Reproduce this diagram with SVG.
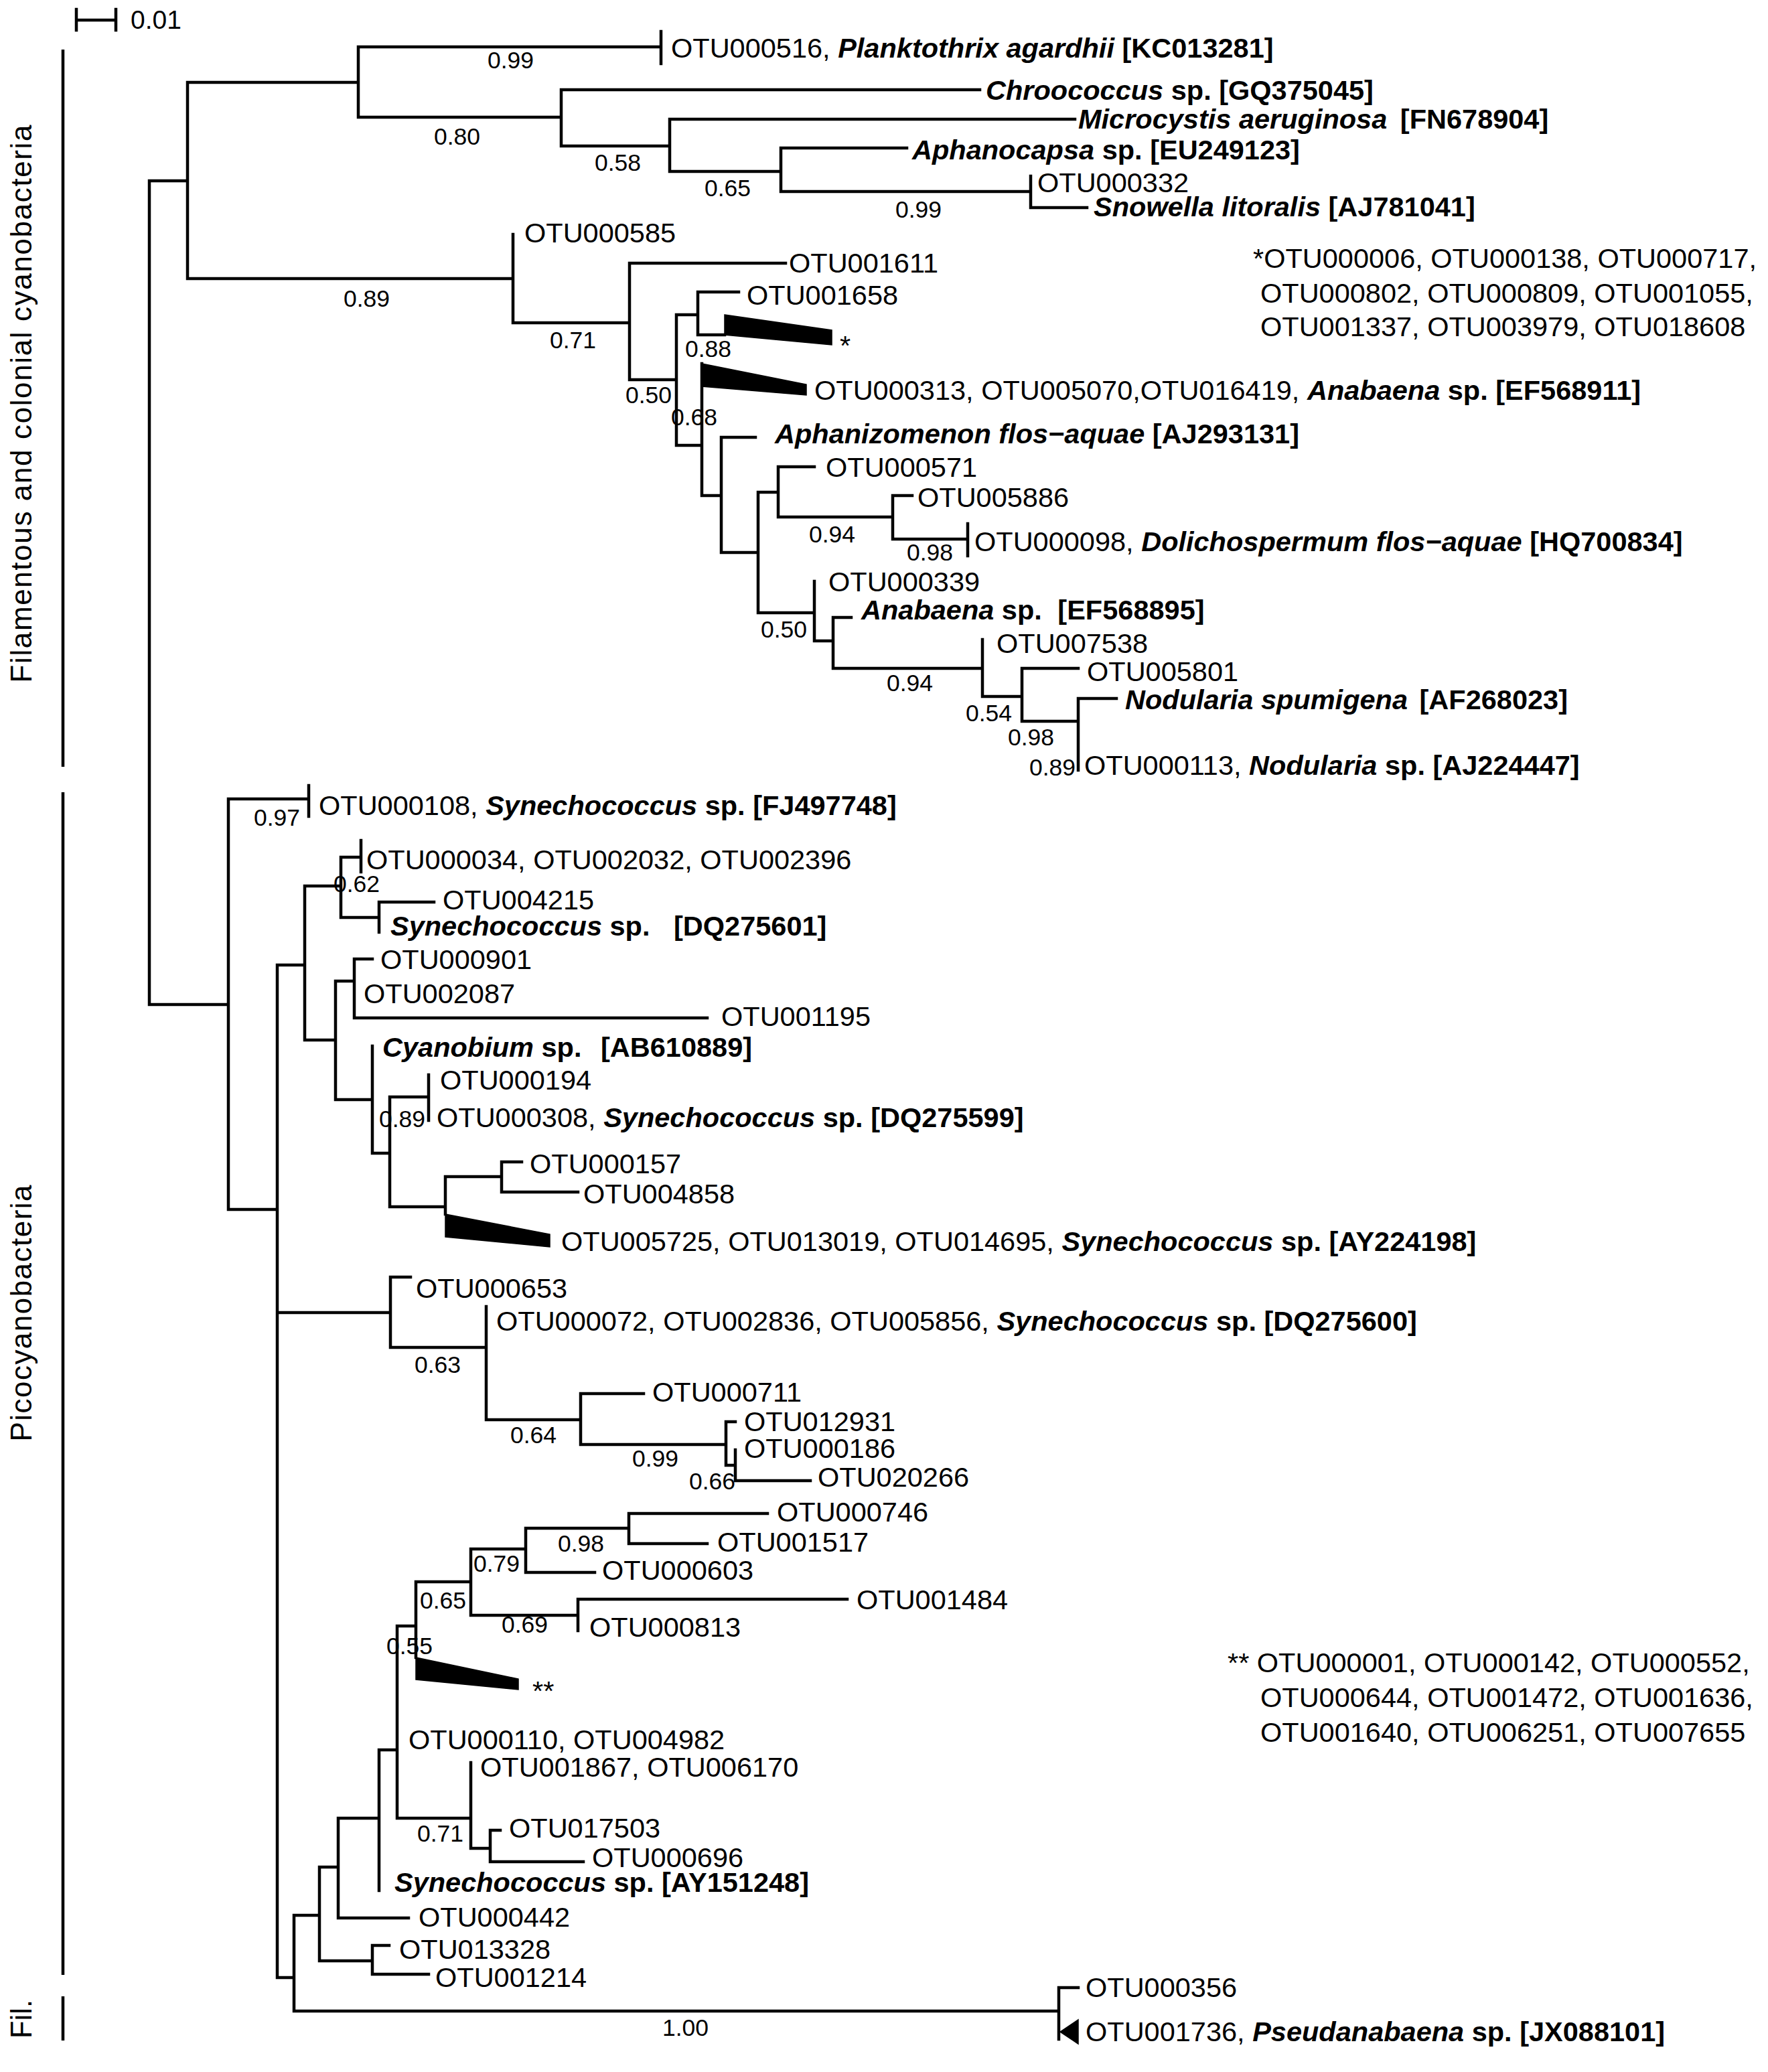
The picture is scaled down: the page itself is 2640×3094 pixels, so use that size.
<svg xmlns="http://www.w3.org/2000/svg" width="2640" height="3094" viewBox="0 0 2640 3094">
<style>
text{font-family:"Liberation Sans",Arial,sans-serif;font-size:41.5px;fill:#000}
.b{font-weight:bold}
.bi{font-weight:bold;font-style:italic}
.bs{font-size:35.5px}
.side{font-size:44px}
.br{fill:none;stroke:#000;stroke-width:4.5;stroke-linecap:square}
.bar{fill:none;stroke:#000;stroke-width:4.5}
.wedge{fill:#000;stroke:#000;stroke-width:1.5}
</style>
<rect width="2640" height="3094" fill="#fff"/>
<g id="scale-bar">
<path class="br" d="M114 30H173 M114 14V45 M173 14V45"/>
<text x="195" y="43" style="font-size:39px">0.01</text>
</g>
<g id="group-bars">
<path class="bar" d="M94 74V1145 M94 1183V2949 M94 2981V3047"/>
<text class="side" transform="translate(47,603) rotate(-90)" text-anchor="middle" textLength="833" lengthAdjust="spacing">Filamentous and colonial cyanobacteria</text>
<text class="side" transform="translate(47,1961) rotate(-90)" text-anchor="middle" textLength="383" lengthAdjust="spacing">Picocyanobacteria</text>
<text class="side" transform="translate(47,3015) rotate(-90)" text-anchor="middle" textLength="58" lengthAdjust="spacingAndGlyphs">Fil.</text>
</g>
<g id="connectors">
<path class="br" d="M223 270H280 M223 1500H341 M223 270V1500
M280 123V416 M280 123H535 M280 416H766
M535 70V175 M535 70H987 M987 47V95 M535 175H838
M838 134V218 M838 134H1463 M838 218H1000
M1000 178V256 M1000 178H1605 M1000 256H1166
M1166 221V286 M1166 221H1354 M1166 286H1539
M1539 263V310 M1539 310H1623
M766 350V482 M766 482H940
M940 393V567 M940 393H1173 M940 567H1010
M1010 470V665 M1010 470H1042 M1010 665H1048
M1042 436V500 M1042 436H1103 M1042 500H1082
M1048 543V740 M1048 740H1077
M1077 653V825 M1077 653H1128 M1077 825H1132
M1132 735V915 M1132 735H1162 M1132 915H1216
M1162 697V772 M1162 697H1216 M1162 772H1333
M1333 740V805 M1333 740H1362 M1333 805H1445 M1445 782V830
M1216 868V957 M1216 957H1244
M1244 922V998 M1244 922H1271 M1244 998H1467
M1467 955V1040 M1467 1040H1526
M1526 998V1077 M1526 998H1610 M1526 1077H1610
M1610 1043V1150 M1610 1043H1667
M341 1193V1806 M341 1193H461 M461 1173V1219 M341 1806H414
M414 1441V2953 M414 1441H455 M414 1960H583 M414 2953H439
M455 1323V1553 M455 1323H509 M455 1553H501
M509 1280V1370 M509 1280H539 M539 1255V1302 M509 1370H566
M566 1347V1392 M566 1347H648
M501 1465V1642 M501 1465H529 M501 1642H556
M529 1432V1520 M529 1432H556 M529 1520H1056
M556 1562V1722 M556 1722H582
M582 1638V1802 M582 1638H640 M582 1802H665
M640 1605V1673
M665 1757V1813 M665 1757H749
M749 1735V1780 M749 1735H779 M749 1780H863
M583 1907V2012 M583 1907H613 M583 2012H726
M726 1951V2120 M726 2120H867
M867 2081V2157 M867 2081H961 M867 2157H1084
M1084 2123V2188 M1084 2123H1098 M1084 2188H1098
M1098 2165V2211 M1098 2211H1210
M439 2860V3003 M439 2860H477 M439 3003H1581
M477 2788V2928 M477 2788H505 M477 2928H556
M556 2905V2948 M556 2905H581 M556 2948H640
M505 2715V2864 M505 2715H566 M505 2864H610
M566 2613V2823 M566 2613H593
M593 2428V2715 M593 2428H621 M593 2715H703
M621 2362V2475 M621 2362H703
M703 2313V2412 M703 2313H785 M703 2412H863
M785 2282V2348 M785 2282H939 M785 2348H888
M939 2260V2305 M939 2260H1146 M939 2305H1056
M863 2388V2435 M863 2388H1265
M703 2632V2760 M703 2760H732
M732 2733V2780 M732 2733H747 M732 2780H871
M1581 2968V3045 M1581 2968H1610"/>
<polygon class="wedge" points="1082,470 1242,493 1242,515 1082,500"/>
<polygon class="wedge" points="1048,543 1204,574 1204,590 1048,577"/>
<polygon class="wedge" points="665,1813 821,1843 821,1862 665,1847"/>
<polygon class="wedge" points="621,2475 774,2507 774,2523 621,2508"/>
<polygon class="wedge" points="1583,3034 1610,3016 1610,3052"/>
</g>
<g id="support-values">
<text class="bs" x="728" y="102">0.99</text>
<text class="bs" x="648" y="216">0.80</text>
<text class="bs" x="888" y="255">0.58</text>
<text class="bs" x="1052" y="293">0.65</text>
<text class="bs" x="1337" y="325">0.99</text>
<text class="bs" x="513" y="458">0.89</text>
<text class="bs" x="821" y="520">0.71</text>
<text class="bs" x="1023" y="533">0.88</text>
<text class="bs" x="934" y="602">0.50</text>
<text class="bs" x="1002" y="635">0.68</text>
<text class="bs" x="1208" y="810">0.94</text>
<text class="bs" x="1354" y="837">0.98</text>
<text class="bs" x="1136" y="952">0.50</text>
<text class="bs" x="1324" y="1032">0.94</text>
<text class="bs" x="1442" y="1077">0.54</text>
<text class="bs" x="1505" y="1113">0.98</text>
<text class="bs" x="1537" y="1158">0.89</text>
<text class="bs" x="379" y="1233">0.97</text>
<text class="bs" x="498" y="1332">0.62</text>
<text class="bs" x="566" y="1683">0.89</text>
<text class="bs" x="619" y="2050">0.63</text>
<text class="bs" x="762" y="2155">0.64</text>
<text class="bs" x="944" y="2190">0.99</text>
<text class="bs" x="1029" y="2224">0.66</text>
<text class="bs" x="833" y="2317">0.98</text>
<text class="bs" x="707" y="2347">0.79</text>
<text class="bs" x="627" y="2402">0.65</text>
<text class="bs" x="749" y="2438">0.69</text>
<text class="bs" x="577" y="2470">0.55</text>
<text class="bs" x="623" y="2750">0.71</text>
<text class="bs" x="989" y="3040">1.00</text>
</g>
<g id="leaf-OTU000516"><text x="1002" y="86">OTU000516, <tspan class="bi">Planktothrix agardhii</tspan><tspan class="b"> [KC013281]</tspan></text></g>
<g id="leaf-Chroococcus"><text x="1472" y="149"><tspan class="bi">Chroococcus</tspan><tspan class="b"> sp. [GQ375045]</tspan></text></g>
<g id="leaf-Microcystis"><text x="1610" y="192"><tspan class="bi">Microcystis aeruginosa</tspan><tspan class="b" dx="8"> [FN678904]</tspan></text></g>
<g id="leaf-Aphanocapsa"><text x="1362" y="238"><tspan class="bi">Aphanocapsa</tspan><tspan class="b"> sp. [EU249123]</tspan></text></g>
<g id="leaf-OTU000332"><text x="1549" y="287">OTU000332</text></g>
<g id="leaf-Snowella"><text x="1633" y="323"><tspan class="bi">Snowella litoralis</tspan><tspan class="b"> [AJ781041]</tspan></text></g>
<g id="leaf-OTU000585"><text x="783" y="362">OTU000585</text></g>
<g id="leaf-OTU001611"><text x="1178" y="407">OTU001611</text></g>
<g id="leaf-OTU001658"><text x="1115" y="455">OTU001658</text></g>
<g id="clade-star"><text x="1254" y="530">*</text></g>
<g id="clade-OTU000313"><text x="1216" y="597">OTU000313, OTU005070,OTU016419, <tspan class="bi">Anabaena</tspan><tspan class="b"> sp. [EF568911]</tspan></text></g>
<g id="leaf-Aphanizomenon"><text x="1157" y="662"><tspan class="bi">Aphanizomenon flos−aquae</tspan><tspan class="b"> [AJ293131]</tspan></text></g>
<g id="leaf-OTU000571"><text x="1233" y="712">OTU000571</text></g>
<g id="leaf-OTU005886"><text x="1370" y="757">OTU005886</text></g>
<g id="leaf-OTU000098"><text x="1455" y="823">OTU000098, <tspan class="bi">Dolichospermum flos−aquae</tspan><tspan class="b"> [HQ700834]</tspan></text></g>
<g id="leaf-OTU000339"><text x="1237" y="883">OTU000339</text></g>
<g id="leaf-Anabaena-EF568895"><text x="1286" y="925"><tspan class="bi">Anabaena</tspan><tspan class="b"> sp.</tspan><tspan class="b" dx="12"> [EF568895]</tspan></text></g>
<g id="leaf-OTU007538"><text x="1488" y="975">OTU007538</text></g>
<g id="leaf-OTU005801"><text x="1623" y="1017">OTU005801</text></g>
<g id="leaf-Nodularia-spumigena"><text x="1680" y="1059"><tspan class="bi">Nodularia spumigena</tspan><tspan class="b" dx="6"> [AF268023]</tspan></text></g>
<g id="leaf-OTU000113"><text x="1619" y="1157">OTU000113, <tspan class="bi">Nodularia</tspan><tspan class="b"> sp. [AJ224447]</tspan></text></g>
<g id="note-star">
<text x="1871" y="400">*OTU000006, OTU000138, OTU000717,</text>
<text x="1882" y="452">OTU000802, OTU000809, OTU001055,</text>
<text x="1882" y="502">OTU001337, OTU003979, OTU018608</text>
</g>
<g id="leaf-OTU000108"><text x="476" y="1217">OTU000108, <tspan class="bi">Synechococcus</tspan><tspan class="b"> sp. [FJ497748]</tspan></text></g>
<g id="leaf-OTU000034"><text x="547" y="1298">OTU000034, OTU002032, OTU002396</text></g>
<g id="leaf-OTU004215"><text x="661" y="1358">OTU004215</text></g>
<g id="leaf-Synechococcus-DQ275601"><text x="583" y="1397"><tspan class="bi">Synechococcus</tspan><tspan class="b"> sp.</tspan><tspan class="b" dx="24"> [DQ275601]</tspan></text></g>
<g id="leaf-OTU000901"><text x="568" y="1447">OTU000901</text></g>
<g id="leaf-OTU002087"><text x="543" y="1498">OTU002087</text></g>
<g id="leaf-OTU001195"><text x="1077" y="1532">OTU001195</text></g>
<g id="leaf-Cyanobium"><text x="571" y="1578"><tspan class="bi">Cyanobium</tspan><tspan class="b"> sp.</tspan><tspan class="b" dx="17"> [AB610889]</tspan></text></g>
<g id="leaf-OTU000194"><text x="657" y="1627">OTU000194</text></g>
<g id="leaf-OTU000308"><text x="652" y="1683">OTU000308, <tspan class="bi">Synechococcus</tspan><tspan class="b"> sp. [DQ275599]</tspan></text></g>
<g id="leaf-OTU000157"><text x="791" y="1752">OTU000157</text></g>
<g id="leaf-OTU004858"><text x="871" y="1797">OTU004858</text></g>
<g id="clade-OTU005725"><text x="838" y="1868">OTU005725, OTU013019, OTU014695, <tspan class="bi">Synechococcus</tspan><tspan class="b"> sp. [AY224198]</tspan></text></g>
<g id="leaf-OTU000653"><text x="621" y="1938">OTU000653</text></g>
<g id="leaf-OTU000072"><text x="741" y="1987">OTU000072, OTU002836, OTU005856, <tspan class="bi">Synechococcus</tspan><tspan class="b"> sp. [DQ275600]</tspan></text></g>
<g id="leaf-OTU000711"><text x="974" y="2093">OTU000711</text></g>
<g id="leaf-OTU012931"><text x="1111" y="2137">OTU012931</text></g>
<g id="leaf-OTU000186"><text x="1111" y="2177">OTU000186</text></g>
<g id="leaf-OTU020266"><text x="1221" y="2220">OTU020266</text></g>
<g id="leaf-OTU000746"><text x="1160" y="2272">OTU000746</text></g>
<g id="leaf-OTU001517"><text x="1071" y="2317">OTU001517</text></g>
<g id="leaf-OTU000603"><text x="899" y="2359">OTU000603</text></g>
<g id="leaf-OTU001484"><text x="1279" y="2403">OTU001484</text></g>
<g id="leaf-OTU000813"><text x="880" y="2444">OTU000813</text></g>
<g id="clade-dstar"><text x="795" y="2539">**</text></g>
<g id="note-dstar">
<text x="1833" y="2497">** OTU000001, OTU000142, OTU000552,</text>
<text x="1882" y="2549">OTU000644, OTU001472, OTU001636,</text>
<text x="1882" y="2601">OTU001640, OTU006251, OTU007655</text>
</g>
<g id="leaf-OTU000110"><text x="610" y="2612">OTU000110, OTU004982</text></g>
<g id="leaf-OTU001867"><text x="717" y="2653">OTU001867, OTU006170</text></g>
<g id="leaf-OTU017503"><text x="760" y="2744">OTU017503</text></g>
<g id="leaf-OTU000696"><text x="884" y="2788">OTU000696</text></g>
<g id="leaf-Synechococcus-AY151248"><text x="589" y="2825"><tspan class="bi">Synechococcus</tspan><tspan class="b"> sp. [AY151248]</tspan></text></g>
<g id="leaf-OTU000442"><text x="625" y="2877">OTU000442</text></g>
<g id="leaf-OTU013328"><text x="596" y="2925">OTU013328</text></g>
<g id="leaf-OTU001214"><text x="650" y="2967">OTU001214</text></g>
<g id="leaf-OTU000356"><text x="1621" y="2982">OTU000356</text></g>
<g id="leaf-OTU001736"><text x="1621" y="3048">OTU001736, <tspan class="bi">Pseudanabaena</tspan><tspan class="b"> sp. [JX088101]</tspan></text></g>
</svg>
